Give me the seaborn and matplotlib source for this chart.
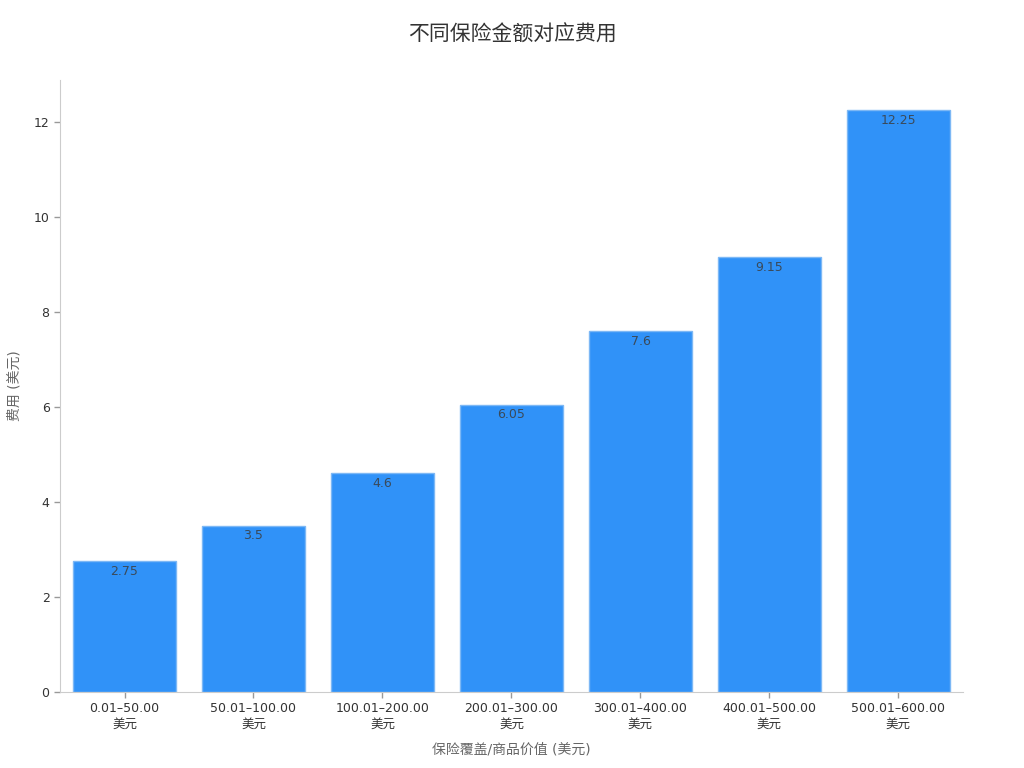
import matplotlib
matplotlib.use('Agg')
import matplotlib.pyplot as plt
import seaborn as sns
import pandas as pd

categories = ['0.01–50.00\n美元', '50.01–100.00\n美元', '100.01–200.00\n美元', '200.01–300.00\n美元',
              '300.01–400.00\n美元', '400.01–500.00\n美元', '500.01–600.00\n美元']
fees = [2.75, 3.5, 4.6, 6.05, 7.6, 9.15, 12.25]
fee_labels = ['2.75', '3.5', '4.6', '6.05', '7.6', '9.15', '12.25']

sns.set_style('white')
plt.rcParams['font.family'] = ['DejaVu Sans', 'Noto Sans CJK SC']

df = pd.DataFrame({'range': categories, 'fee': fees})

fig = plt.figure(figsize=(10.24, 7.68), dpi=100)
ax = fig.add_axes([0.0586, 0.099, 0.8818, 0.7968])
sns.barplot(data=df, x='range', y='fee', color='#3092F8', width=0.8,
            edgecolor='#7DB8F5', linewidth=1, saturation=1, ax=ax)

for i, v in enumerate(fees):
    ax.text(i, v - 0.08, fee_labels[i], ha='center', va='top', fontsize=9, color='#3a4a5a')

ax.set_xlim(-0.5, 6.5)
ax.set_ylim(0, 12.88)
ax.set_yticks([0, 2, 4, 6, 8, 10, 12])
ax.tick_params(axis='both', labelsize=9, labelcolor='#333333', color='#999999',
               length=4, width=1, bottom=True, left=True)
for s in ['top', 'right']:
    ax.spines[s].set_visible(False)
for s in ['left', 'bottom']:
    ax.spines[s].set_color('#cccccc')
ax.set_xlabel('保险覆盖/商品价值 (美元)', fontsize=10, color='#666666', labelpad=9)
ax.set_ylabel('费用 (美元)', fontsize=10, color='#666666', labelpad=9)
fig.suptitle('不同保险金额对应费用', fontsize=15, color='#333333', y=0.968)

plt.savefig('out.png', dpi=100)
